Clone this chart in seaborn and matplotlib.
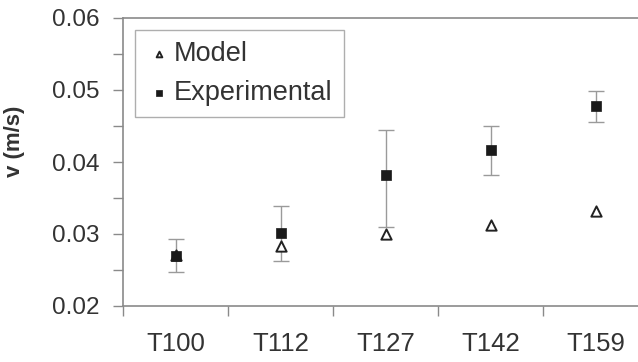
import numpy as np
import pandas as pd
import matplotlib
matplotlib.use("Agg")
import matplotlib.pyplot as plt
import seaborn as sns
from matplotlib.ticker import MultipleLocator, FixedLocator

sns.set_theme(style="ticks")
plt.rcParams['font.family'] = ['Liberation Sans', 'DejaVu Sans']

cases = ["T100", "T112", "T127", "T142", "T159"]
model = [0.0271, 0.0283, 0.0300, 0.0312, 0.0332]
experimental = [0.0270, 0.0302, 0.0382, 0.0417, 0.0478]
err_top = [0.0293, 0.0339, 0.0444, 0.0450, 0.0499]
err_bottom = [0.0247, 0.0263, 0.0310, 0.0382, 0.0456]

df = pd.DataFrame({"case": cases, "Model": model, "Experimental": experimental})
exp = np.array(experimental)
yerr = [exp - np.array(err_bottom), np.array(err_top) - exp]

fig = plt.figure(figsize=(6.38, 3.62), dpi=100)
ax = fig.add_axes([123 / 638, 56 / 362, 525 / 638, 288 / 362])

spine_c = "#8a8a8a"
text_c = "#333333"

ax.errorbar(range(len(cases)), experimental, yerr=yerr, fmt="none",
            ecolor="#9a9a9a", elinewidth=1.0, capsize=6, capthick=1.0, zorder=1)
sns.scatterplot(data=df, x="case", y="Model", marker="^", s=55,
                facecolor="white", edgecolor="#222222", linewidth=1.4,
                ax=ax, zorder=3, label="Model")
sns.scatterplot(data=df, x="case", y="Experimental", marker="s", s=55,
                color="#1a1a1a", edgecolor="#1a1a1a", linewidth=0.5,
                ax=ax, zorder=4, label="Experimental")

ax.set_xlim(-0.5, 4.5)
ax.set_ylim(0.02, 0.06)
ax.yaxis.set_minor_locator(MultipleLocator(0.005))
yt = np.arange(0.02, 0.061, 0.01)
ax.set_yticks(yt)
ax.set_yticklabels([f"{v:.2f}" for v in yt])
ax.set_xticks(range(len(cases)))
ax.set_xticklabels(cases)
ax.xaxis.set_minor_locator(FixedLocator(np.arange(-0.5, 5, 1.0)))
ax.tick_params(axis="x", which="major", length=0, pad=19, labelsize=18.5, labelcolor=text_c)
ax.tick_params(axis="x", which="minor", length=7, color=spine_c, width=1)
ax.tick_params(axis="y", which="both", length=7, color=spine_c, width=1,
               labelsize=17.5, labelcolor=text_c, pad=10)

for side in ["left", "bottom", "top", "right"]:
    ax.spines[side].set_color(spine_c)
    ax.spines[side].set_linewidth(1.2)

ax.set_xlabel("")
ax.set_ylabel("v (m/s)", fontsize=16, fontweight="bold", color=text_c)
ax.yaxis.set_label_coords(-0.187, 0.573)

leg = ax.legend(loc="upper left", bbox_to_anchor=(0.023, 0.958), borderaxespad=0,
                fontsize=19.5, frameon=True, fancybox=False, edgecolor="#9a9a9a",
                handlelength=0.9, handletextpad=0.12, labelspacing=0.45,
                borderpad=0.42, markerscale=0.55)
leg.get_frame().set_linewidth(1.0)
for t in leg.get_texts():
    t.set_color(text_c)

fig.savefig("out.png", dpi=100)
